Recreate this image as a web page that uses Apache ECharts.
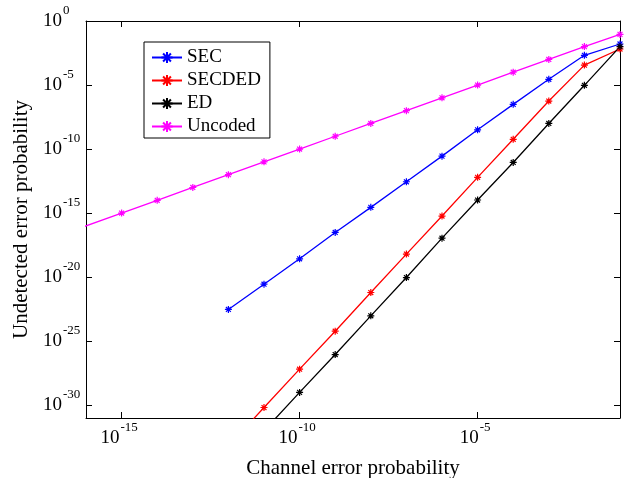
<!DOCTYPE html>
<html><head><meta charset="utf-8">
<script src="https://cdn.jsdelivr.net/npm/echarts@6/dist/echarts.min.js"></script>
<style>html,body{margin:0;padding:0;background:#fff}#c{width:628px;height:478px}</style>
</head><body><div id="c"></div>
<script>
// Channel error probability (x)
const channelP = [1e-17, 1e-16, 1e-15, 1e-14, 1e-13, 1e-12, 1e-11, 1e-10, 1e-9, 1e-8, 1e-7, 1e-6, 1e-5, 1e-4, 1e-3, 1e-2, 1e-1];
// Undetected error probability (y), null where the series has no point
const secVals     = [null, null, null, null, null, 3e-23, 2.8e-21, 2.7e-19, 3.1e-17, 2.8e-15, 2.8e-13, 2.8e-11, 3.2e-9, 3.1e-7, 2.8e-5, 2.1e-3, 1.6e-2];
const secdedVals  = [null, null, null, null, null, 6.3e-34, 6.6e-31, 6.5e-28, 6e-25, 6.3e-22, 6.3e-19, 5.9e-16, 6.2e-13, 5.8e-10, 5.6e-7, 3.6e-4, 6.5e-3];
const edVals      = [null, null, null, null, null, null, 1e-32, 1e-29, 9e-27, 9.5e-24, 9.3e-21, 1.1e-17, 1.05e-14, 9e-12, 1e-8, 9.5e-6, 1e-2];
const uncodedVals = [1e-17, null, 1e-15, 1e-14, 1e-13, 1e-12, 1e-11, 1e-10, 1e-9, 1e-8, 1e-7, 1e-6, 1e-5, 1e-4, 1e-3, 1e-2, 9e-2];
const seriesNames = ['SEC', 'SECDED', 'ED', 'Uncoded'];
// Tick values and their exponent labels
const xTickValues = [1e-15, 1e-10, 1e-5];
const xTickExps = ['-15', '-10', '-5'];
const yTickValues = [1e-30, 1e-25, 1e-20, 1e-15, 1e-10, 1e-5, 1e0];
const yTickExps = ['-30', '-25', '-20', '-15', '-10', '-5', '0'];

const FONT = '"Liberation Serif", "Times New Roman", serif';
const colors = ['#0000ff', '#ff0000', '#000000', '#ff00ff'];
const star = 'path://M0,5L10,5M5,0L5,10M1.5,1.5L8.5,8.5M1.5,8.5L8.5,1.5';

function pairs(vals) {
  return channelP.map((p, i) => [p, vals[i]]).filter(d => d[1] != null);
}
function labelFor(values, exps) {
  return function (v) {
    let best = 0, bd = Infinity;
    values.forEach((t, i) => { const d = Math.abs(Math.log10(t) - Math.log10(v)); if (d < bd) { bd = d; best = i; } });
    return '{b|10}{s|' + exps[best] + '}';
  };
}
const rich = {
  b: { fontFamily: FONT, fontSize: 19, lineHeight: 36, verticalAlign: 'middle', color: '#000' },
  s: { fontFamily: FONT, fontSize: 13, lineHeight: 15, height: 15, verticalAlign: 'top', padding: [0, 5, 0, 1], color: '#000' }
};
const axisLine = { show: true, onZero: false, lineStyle: { color: '#000', width: 1 } };

const allVals = [secVals, secdedVals, edVals, uncodedVals];
const chart = echarts.init(document.getElementById('c'), null, { renderer: 'canvas' });
chart.setOption({
  animation: false,
  backgroundColor: '#fff',
  grid: { left: 86, right: 8, top: 21, bottom: 60, containLabel: false, outerBoundsMode: 'none' },
  legend: {
    orient: 'vertical', left: 144, top: 42,
    data: seriesNames,
    backgroundColor: '#fff', borderColor: '#000', borderWidth: 1,
    padding: [6, 9, 2, 7],
    itemWidth: 30, itemHeight: 14, itemGap: 4,
    textStyle: { fontFamily: FONT, fontSize: 19, color: '#000', lineHeight: 19 }
  },
  xAxis: [{
    type: 'log', logBase: 10, min: 1e-16, max: 1e-1,
    name: 'Channel error probability', nameLocation: 'middle', nameGap: 40,
    nameTextStyle: { fontFamily: FONT, fontSize: 21, color: '#000' },
    axisLine: axisLine,
    axisTick: { show: true, inside: true, length: 6, customValues: xTickValues, lineStyle: { color: '#000' } },
    axisLabel: { show: true, customValues: xTickValues, margin: 2, formatter: labelFor(xTickValues, xTickExps), rich: rich },
    splitLine: { show: false }, minorTick: { show: false }
  }, {
    type: 'log', logBase: 10, min: 1e-16, max: 1e-1, position: 'top',
    axisLine: axisLine,
    axisTick: { show: true, inside: true, length: 6, customValues: xTickValues, lineStyle: { color: '#000' } },
    axisLabel: { show: false }, splitLine: { show: false }
  }],
  yAxis: [{
    type: 'log', logBase: 10, min: 1e-31, max: 1,
    name: 'Undetected error probability', nameLocation: 'middle', nameGap: 49,
    nameTextStyle: { fontFamily: FONT, fontSize: 21, color: '#000' },
    axisLine: axisLine,
    axisTick: { show: true, inside: true, length: 6, customValues: yTickValues, lineStyle: { color: '#000' } },
    axisLabel: { show: true, customValues: yTickValues, margin: 43, align: 'left', formatter: labelFor(yTickValues, yTickExps), rich: rich },
    splitLine: { show: false }, minorTick: { show: false }
  }, {
    type: 'log', logBase: 10, min: 1e-31, max: 1, position: 'right',
    axisLine: axisLine,
    axisTick: { show: true, inside: true, length: 6, customValues: yTickValues, lineStyle: { color: '#000' } },
    axisLabel: { show: false }, splitLine: { show: false }
  }],
  series: seriesNames.map((name, k) => ({
    name: name, type: 'line', xAxisIndex: 0, yAxisIndex: 0,
    data: pairs(allVals[k]),
    clip: true, showSymbol: true, symbol: star, symbolSize: 7,
    lineStyle: { color: colors[k], width: 1.3 },
    itemStyle: { color: colors[k], borderColor: colors[k], borderWidth: 1.2 },
    emphasis: { disabled: true }
  }))
});
</script></body></html>
